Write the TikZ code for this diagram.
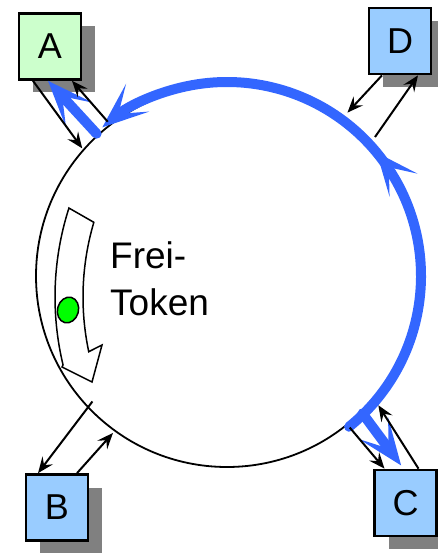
\documentclass[tikz,border=0pt]{standalone}
\usepackage{fontspec}
\setmainfont{Liberation Sans}
\usetikzlibrary{arrows.meta,shadows,shapes.geometric,decorations.markings}
\definecolor{stationblue}{HTML}{99CCFF}
\definecolor{stationgreen}{HTML}{CCFFCC}
\definecolor{tokenblue}{HTML}{3366FF}
\definecolor{tokengreen}{HTML}{00FF00}

\begin{document}
\begin{tikzpicture}[x=1pt, y=-1pt,
  station/.style={draw, line width=2.7pt, minimum width=62pt, minimum height=66pt, inner sep=0pt, font=\fontsize{36}{40}\selectfont, drop shadow={shadow xshift=14pt, shadow yshift=-13pt, fill=black!50, opacity=1}},
  link/.style={line width=2pt, -{Stealth[length=16pt,width=13pt,inset=6pt]}},
  pass/.style={draw=tokenblue, line width=10pt, line cap=round, -{Stealth[length=46pt,width=36pt,inset=25pt]}},
  ringline/.style={line width=1.8pt},
  hollow/.style={draw, fill=white, line width=1.5pt, line join=miter}]
\useasboundingbox (0,0) rectangle (437,553);
\coordinate (ring) at (227,276);
\draw[ringline] (ring) circle[radius=191];
% hollow arrow with the free token
\draw[hollow] (346,297) ++(197.8:291) arc[start angle=197.8, end angle=166.5, radius=291] -- (62,367) -- (92,382) -- (102,345) -- ([shift={(168:263)}]346,297) arc[start angle=168, end angle=196.5, radius=263] -- cycle;
\node[ellipse, draw, fill=tokengreen, line width=1.5pt, minimum width=21pt, minimum height=26pt, inner sep=0pt, rotate=-15] (tok) at (68,310) {};
\node[font=\fontsize{37}{47}\selectfont, align=left, anchor=base west, inner sep=0pt] (label) at (110,315) {Frei-\\Token};
% stations
\node[station, fill=stationgreen] (A) at (50,46.5) {A};
\node[station, fill=stationblue] (B) at (57,507.5) {B};
\node[station, fill=stationblue] (C) at (405.5,503) {C};
\node[station, fill=stationblue] (D) at (400,41) {D};
% points on the ring
\coordinate (ca1) at ([shift={(-138.6:193)}]ring);
\coordinate (ca2) at ([shift={(-127.7:195)}]ring);
\coordinate (cd1) at ([shift={(-53.6:203)}]ring);
\coordinate (cd2) at ([shift={(-43.2:203)}]ring);
\coordinate (cc1) at ([shift={(51:195)}]ring);
\coordinate (cc2) at ([shift={(40.5:199)}]ring);
\coordinate (cb1) at ([shift={(137:184)}]ring);
\coordinate (cb2) at ([shift={(126:194)}]ring);
\coordinate (pa) at ([shift={(-132.5:193)}]ring);
\coordinate (pc) at ([shift={(45.4:193)}]ring);
% token path
\draw[pass, postaction={decorate}, decoration={markings, mark=at position 0.5 with {\arrow{Stealth[length=42pt,width=36pt,inset=23pt,color=tokenblue]}}}] ([shift={(51:194)}]ring) arc[start angle=51, end angle=-130, radius=194];
\draw[pass] (pa) -- ([xshift=-2pt]A.south);
\draw[pass, shorten >=4pt] (pc) -- ([xshift=-2pt]C.north);
% links
\draw[link] ([xshift=-17pt]A.south) -- (ca1);
\draw[link] (ca2) -- ([xshift=22pt]A.south);
\draw[link] ([xshift=-18pt]D.south) -- (cd1);
\draw[link] (cd2) -- ([xshift=18pt]D.south);
\draw[link] (cc1) -- ([xshift=-21pt]C.north);
\draw[link] ([xshift=13pt]C.north) -- (cc2);
\draw[link] (cb1) -- ([xshift=-19pt]B.north);
\draw[link] ([xshift=20pt]B.north) -- (cb2);
\end{tikzpicture}
\end{document}
